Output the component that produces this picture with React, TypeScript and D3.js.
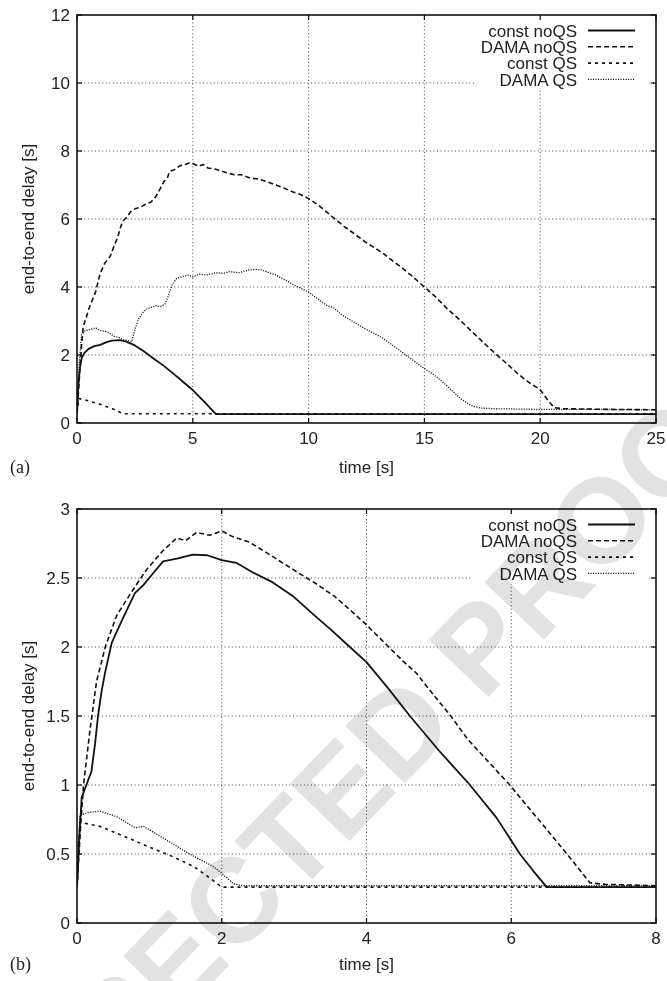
import React from "react";
import * as d3 from "d3";

type Pt = [number, number];

// ---------- tick values ----------
const A_X_TICKS = [0, 5, 10, 15, 20, 25];
const A_Y_TICKS = [0, 2, 4, 6, 8, 10, 12];
const B_X_TICKS = [0, 2, 4, 6, 8];
const B_Y_TICKS = [0, 0.5, 1, 1.5, 2, 2.5, 3];
const LEGEND_LABELS = ["const noQS", "DAMA noQS", "const QS", "DAMA QS"];
const X_TITLE = "time [s]";
const Y_TITLE = "end-to-end delay [s]";

// ---------- panel (a) series ----------
const A_CONST_NOQS: Pt[] = [[0,0.3],[0.05,1.0],[0.12,1.6],[0.2,1.9],[0.3,2.05],[0.5,2.18],[0.75,2.26],[1.0,2.3],[1.25,2.37],[1.5,2.42],[1.85,2.44],[2.1,2.4],[2.45,2.3],[2.9,2.1],[3.3,1.9],[3.75,1.68],[4.2,1.43],[4.6,1.2],[5.0,0.97],[5.5,0.62],[6.0,0.26],[25,0.26]];
const A_DAMA_NOQS: Pt[] = [[0,0.3],[0.07,1.0],[0.13,1.66],[0.2,2.3],[0.27,2.84],[0.4,3.1],[0.5,3.33],[0.65,3.6],[0.8,3.85],[1.0,4.4],[1.1,4.55],[1.2,4.7],[1.43,4.9],[1.6,5.2],[1.75,5.45],[1.9,5.8],[2.0,5.95],[2.15,6.05],[2.3,6.2],[2.5,6.3],[2.75,6.35],[3.0,6.45],[3.2,6.5],[3.4,6.65],[3.6,6.9],[3.75,7.1],[3.9,7.2],[4.0,7.4],[4.2,7.45],[4.45,7.57],[4.65,7.6],[4.85,7.65],[5.05,7.62],[5.25,7.55],[5.45,7.6],[5.65,7.5],[5.9,7.48],[6.2,7.42],[6.5,7.35],[6.8,7.3],[7.1,7.3],[7.5,7.2],[7.8,7.18],[8.2,7.1],[8.6,7.0],[8.9,6.92],[9.3,6.8],[9.65,6.72],[10.0,6.6],[10.4,6.42],[10.7,6.25],[11.0,6.08],[11.5,5.8],[12.0,5.55],[12.5,5.3],[13.2,5.0],[13.6,4.78],[14.0,4.58],[14.5,4.3],[15.0,4.0],[15.5,3.7],[16.0,3.35],[16.5,3.05],[17.0,2.72],[17.5,2.4],[18.0,2.08],[18.5,1.78],[19.0,1.47],[19.5,1.2],[20.0,0.98],[20.3,0.7],[20.6,0.45],[21,0.42],[23,0.4],[25,0.39]];
const A_CONST_QS: Pt[] = [[0,0.3],[0.08,0.72],[0.5,0.65],[1.0,0.55],[1.5,0.43],[2.0,0.27],[25,0.27]];
const A_DAMA_QS: Pt[] = [[0,0.3],[0.1,1.8],[0.2,2.6],[0.35,2.72],[0.6,2.75],[0.8,2.8],[1.0,2.72],[1.2,2.7],[1.4,2.65],[1.6,2.55],[1.8,2.52],[2.0,2.45],[2.2,2.42],[2.36,2.39],[2.5,2.75],[2.65,3.05],[2.85,3.25],[3.0,3.35],[3.2,3.4],[3.4,3.45],[3.6,3.42],[3.8,3.5],[3.95,3.75],[4.1,4.05],[4.3,4.25],[4.5,4.3],[4.8,4.35],[5.0,4.3],[5.3,4.38],[5.6,4.35],[6.0,4.42],[6.3,4.4],[6.6,4.45],[7.0,4.42],[7.4,4.5],[7.7,4.52],[8.0,4.5],[8.3,4.42],[8.6,4.35],[9.0,4.2],[9.4,4.05],[9.7,3.95],[10.0,3.85],[10.4,3.65],[10.8,3.45],[11.05,3.4],[11.5,3.15],[12.0,2.95],[12.5,2.75],[13.2,2.5],[13.6,2.3],[14.0,2.1],[14.5,1.85],[15.0,1.6],[15.4,1.42],[15.8,1.2],[16.2,0.95],[16.6,0.7],[17.0,0.52],[17.4,0.44],[18,0.42],[20,0.4],[22,0.4],[25,0.39]];

// ---------- panel (b) series ----------
const B_CONST_NOQS: Pt[] = [[0,0.26],[0.03,0.6],[0.065,0.91],[0.13,1.0],[0.2,1.1],[0.25,1.3],[0.29,1.5],[0.34,1.68],[0.39,1.82],[0.48,2.03],[0.6,2.17],[0.7,2.28],[0.8,2.39],[0.92,2.45],[1.06,2.54],[1.19,2.62],[1.38,2.64],[1.6,2.67],[1.8,2.665],[2.0,2.63],[2.2,2.61],[2.43,2.54],[2.7,2.47],[2.98,2.37],[3.3,2.22],[3.5,2.13],[3.77,2.0],[4.0,1.89],[4.3,1.7],[4.6,1.5],[5.0,1.25],[5.43,1.0],[5.8,0.76],[6.12,0.5],[6.3,0.38],[6.49,0.26],[8,0.26]];
const B_DAMA_NOQS: Pt[] = [[0,0.26],[0.05,0.7],[0.09,1.0],[0.18,1.4],[0.27,1.75],[0.39,2.0],[0.55,2.23],[0.78,2.42],[0.96,2.56],[1.19,2.7],[1.38,2.79],[1.5,2.77],[1.65,2.83],[1.83,2.81],[2.0,2.84],[2.15,2.8],[2.38,2.76],[2.6,2.69],[2.84,2.61],[3.05,2.54],[3.3,2.46],[3.55,2.37],[3.77,2.27],[4.0,2.16],[4.27,2.02],[4.5,1.9],[4.69,1.81],[4.9,1.67],[5.15,1.51],[5.4,1.33],[5.7,1.16],[5.98,1.0],[6.2,0.86],[6.44,0.71],[6.77,0.5],[7.09,0.29],[7.3,0.28],[8,0.27]];
const B_CONST_QS: Pt[] = [[0,0.26],[0.04,0.73],[0.32,0.7],[0.55,0.65],[0.78,0.6],[1.0,0.55],[1.24,0.5],[1.45,0.45],[1.61,0.41],[1.8,0.34],[2.0,0.26],[8,0.26]];
const B_DAMA_QS: Pt[] = [[0,0.26],[0.04,0.78],[0.15,0.8],[0.32,0.81],[0.55,0.77],[0.8,0.69],[0.92,0.7],[1.05,0.66],[1.24,0.6],[1.4,0.55],[1.52,0.51],[1.7,0.46],[1.88,0.41],[2.0,0.36],[2.16,0.285],[2.3,0.27],[8,0.27]];

const WATERMARK = "UNCORRECTED PROOF";

// ---------- styles ----------
const SANS = "'Liberation Sans', Arial, Helvetica, sans-serif";
const SERIF = "'Liberation Serif', 'Times New Roman', serif";
const STYLES = [
  { dash: "none", width: 1.8 },
  { dash: "5,3", width: 1.6 },
  { dash: "3,4", width: 1.6 },
  { dash: "1.1,1.4", width: 1.3 },
];

const LEFT = 77;
const RIGHT = 656;
const FS = 17;

interface PanelProps {
  id: string;
  top: number;
  bottom: number;
  xMax: number;
  yMax: number;
  xTicks: number[];
  yTicks: number[];
  series: Pt[][];
  tag: string;
  legendBox: [number, number, number, number];
  titleGap: number;
}

function Panel({ id, top, bottom, xMax, yMax, xTicks, yTicks, series, tag, legendBox, titleGap }: PanelProps) {
  const x = d3.scaleLinear().domain([0, xMax]).range([LEFT, RIGHT]);
  const y = d3.scaleLinear().domain([0, yMax]).range([bottom, top]);
  const line = d3.line<Pt>().x((d) => x(d[0])).y((d) => y(d[1]));
  const tick = 5;
  const legTextX = 577;
  const legSample: [number, number] = [588, 635];
  const legRow0 = top + 15.5;
  const legStep = 16.3;
  const [lbx, lby, lbw, lbh] = legendBox;
  return (
    <g>
      <defs>
        <clipPath id={`clip-${id}`}>
          <rect x={LEFT} y={top} width={RIGHT - LEFT} height={bottom - top} />
        </clipPath>
      </defs>
      {/* grid */}
      <g stroke="#333" strokeWidth={0.9} strokeDasharray="1,2.6">
        {xTicks.filter((t) => t > 0 && t < xMax).map((t) => (
          <line key={`gx${t}`} x1={x(t)} x2={x(t)} y1={bottom} y2={top} />
        ))}
        {yTicks.filter((t) => t > 0 && t < yMax).map((t) => (
          <line key={`gy${t}`} x1={LEFT} x2={RIGHT} y1={y(t)} y2={y(t)} />
        ))}
      </g>
      {/* legend background */}
      <rect x={lbx} y={lby} width={lbw} height={lbh} fill="#fff" />
      {/* tick marks */}
      <g stroke="#000" strokeWidth={1.2}>
        {xTicks.map((t) => (
          <g key={`tx${t}`}>
            <line x1={x(t)} x2={x(t)} y1={bottom} y2={bottom - tick} />
            <line x1={x(t)} x2={x(t)} y1={top} y2={top + tick} />
          </g>
        ))}
        {yTicks.map((t) => (
          <g key={`ty${t}`}>
            <line x1={LEFT} x2={LEFT + tick} y1={y(t)} y2={y(t)} />
            <line x1={RIGHT} x2={RIGHT - tick} y1={y(t)} y2={y(t)} />
          </g>
        ))}
      </g>
      {/* series */}
      <g clipPath={`url(#clip-${id})`} fill="none" stroke="#111">
        {series.map((s, i) => (
          <path key={i} d={line(s) || ""} strokeWidth={STYLES[i].width}
            strokeDasharray={STYLES[i].dash} strokeLinejoin="round" />
        ))}
      </g>
      {/* border */}
      <rect x={LEFT} y={top} width={RIGHT - LEFT} height={bottom - top}
        fill="none" stroke="#111" strokeWidth={1.6} />
      {/* tick labels */}
      <g fontFamily={SANS} fontSize={FS} fill="#222">
        {yTicks.map((t) => (
          <text key={`ly${t}`} x={70} y={y(t)} dy="0.36em" textAnchor="end">{String(t)}</text>
        ))}
        {xTicks.map((t) => (
          <text key={`lx${t}`} x={x(t)} y={bottom + 21} textAnchor="middle">{String(t)}</text>
        ))}
        <text x={(LEFT + RIGHT) / 2} y={bottom + titleGap} textAnchor="middle">{X_TITLE}</text>
        <text transform={`translate(28,${(top + bottom) / 2}) rotate(-90)`} dy="0.33em" textAnchor="middle">{Y_TITLE}</text>
      </g>
      <text x={10} y={bottom + titleGap} fontFamily={SERIF} fontSize={18} fill="#222">{tag}</text>
      {/* legend */}
      <g fontFamily={SANS} fontSize={FS} fill="#222">
        {LEGEND_LABELS.map((lab, i) => {
          const ly = legRow0 + i * legStep;
          return (
            <g key={lab}>
              <text x={legTextX} y={ly} dy="0.36em" textAnchor="end">{lab}</text>
              <line x1={legSample[0]} x2={legSample[1]} y1={ly} y2={ly} stroke="#111"
                strokeWidth={STYLES[i].width} strokeDasharray={STYLES[i].dash} />
            </g>
          );
        })}
      </g>
    </g>
  );
}

export default function App() {
  return (
    <svg width={667} height={981} viewBox="0 0 667 981"
      style={{ position: "absolute", left: 0, top: 0, background: "#fff" }}>
      <rect x={0} y={0} width={667} height={981} fill="#fff" />
      <Panel id="a" top={15} bottom={423} xMax={25} yMax={12} xTicks={A_X_TICKS} yTicks={A_Y_TICKS}
        series={[A_CONST_NOQS, A_DAMA_NOQS, A_CONST_QS, A_DAMA_QS]} tag="(a)"
        legendBox={[475, 15, 172, 73]} titleGap={50} />
      <Panel id="b" top={509} bottom={923} xMax={8} yMax={3} xTicks={B_X_TICKS} yTicks={B_Y_TICKS}
        series={[B_CONST_NOQS, B_DAMA_NOQS, B_CONST_QS, B_DAMA_QS]} tag="(b)"
        legendBox={[470, 509, 178, 75]} titleGap={47} />
      <text transform="translate(264,867) rotate(-46)" textAnchor="middle" dy="0.36em"
        fontFamily={SANS} fontWeight="bold" fontSize={120} fill="#e2e2e2"
        style={{ mixBlendMode: "multiply" }}>{WATERMARK}</text>
    </svg>
  );
}
